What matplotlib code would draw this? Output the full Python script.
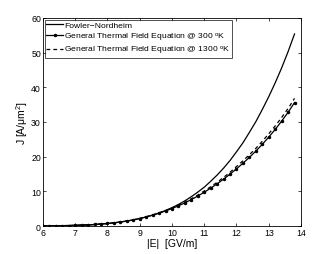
import matplotlib
matplotlib.use("Agg")
import matplotlib.pyplot as plt

plt.rcParams['font.family'] = ['Liberation Sans', 'DejaVu Sans']
plt.rcParams['mathtext.fontset'] = 'custom'
plt.rcParams['mathtext.rm'] = 'Liberation Sans'
plt.rcParams['mathtext.it'] = 'Liberation Sans:italic'
plt.rcParams['mathtext.default'] = 'regular'

E = [6.0, 6.2, 6.4, 6.6, 6.8, 7.0, 7.2, 7.4, 7.6, 7.8, 8.0, 8.2, 8.4, 8.6, 8.8,
     9.0, 9.2, 9.4, 9.6, 9.8, 10.0, 10.2, 10.4, 10.6, 10.8, 11.0, 11.2, 11.4,
     11.6, 11.8, 12.0, 12.2, 12.4, 12.6, 12.8, 13.0, 13.2, 13.4, 13.6, 13.8]

fowler_nordheim = [0.031, 0.046, 0.067, 0.096, 0.134, 0.184, 0.249, 0.331, 0.435,
                   0.565, 0.723, 0.917, 1.15, 1.43, 1.77, 2.16, 2.62, 3.16, 3.78,
                   4.49, 5.30, 6.22, 7.27, 8.46, 9.77, 11.2, 12.9, 14.7, 16.7, 18.9,
                   21.4, 24.0, 27.0, 30.1, 33.6, 37.3, 41.3, 45.6, 50.3, 55.4]

thermal_300 = [0.031, 0.046, 0.067, 0.096, 0.134, 0.184, 0.249, 0.331, 0.435,
               0.565, 0.723, 0.917, 1.15, 1.43, 1.76, 2.15, 2.61, 3.13, 3.70,
               4.33, 5.04, 5.82, 6.68, 7.62, 8.64, 9.74, 10.92, 12.18, 13.52,
               14.96, 16.5, 18.1, 19.8, 21.6, 23.55, 25.65, 27.85, 30.25, 32.8, 35.6]

thermal_1300 = [0.032, 0.047, 0.068, 0.098, 0.137, 0.188, 0.254, 0.338, 0.444,
                0.578, 0.74, 0.94, 1.18, 1.47, 1.80, 2.20, 2.67, 3.20, 3.79,
                4.45, 5.19, 6.01, 6.90, 7.88, 8.94, 10.10, 11.32, 12.62, 14.02,
                15.50, 17.15, 18.8, 20.55, 22.4, 24.45, 26.6, 28.85, 31.3, 33.9, 36.8]

x_ticks = [6, 7, 8, 9, 10, 11, 12, 13, 14]
y_ticks = [0, 10, 20, 30, 40, 50, 60]

fig = plt.figure(figsize=(3.32, 2.55), dpi=100)
ax = fig.add_axes([0.1295, 0.1098, 0.7771, 0.8157])

ax.plot(E, fowler_nordheim, color='black', lw=0.9, label='Fowler\u2212Nordheim')
ax.plot(E, thermal_300, color='black', lw=0.9, marker='.', markersize=3,
        label=r'General Thermal Field Equation @ 300 $^{o}$K')
ax.plot(E, thermal_1300, color='black', lw=0.9, linestyle=(0, (3, 2.5)),
        label=r'General Thermal Field Equation @ 1300 $^{o}$K')

ax.set_xlim(6, 14)
ax.set_ylim(0, 60)
ax.set_xticks(x_ticks)
ax.set_yticks(y_ticks)
ax.tick_params(direction='in', top=True, right=True, labelsize=6.3, length=2.5,
               width=0.5, pad=1.5)
for s in ax.spines.values():
    s.set_linewidth(0.6)

ax.set_xlabel('|E|  [GV/m]', fontsize=7.5, labelpad=0.5)
ax.set_ylabel(r'J [A/$\mu$m$^2$]', fontsize=7.5, labelpad=0.5)

leg = ax.legend(loc='upper left', fontsize=6.1, frameon=True, fancybox=False,
                borderaxespad=0.2, handlelength=2.0, handletextpad=0.1,
                labelspacing=0.15, borderpad=0.2, markerscale=1.0)
leg.get_frame().set_edgecolor('black')
leg.get_frame().set_linewidth(0.6)

fig.savefig('out.png', dpi=100)
